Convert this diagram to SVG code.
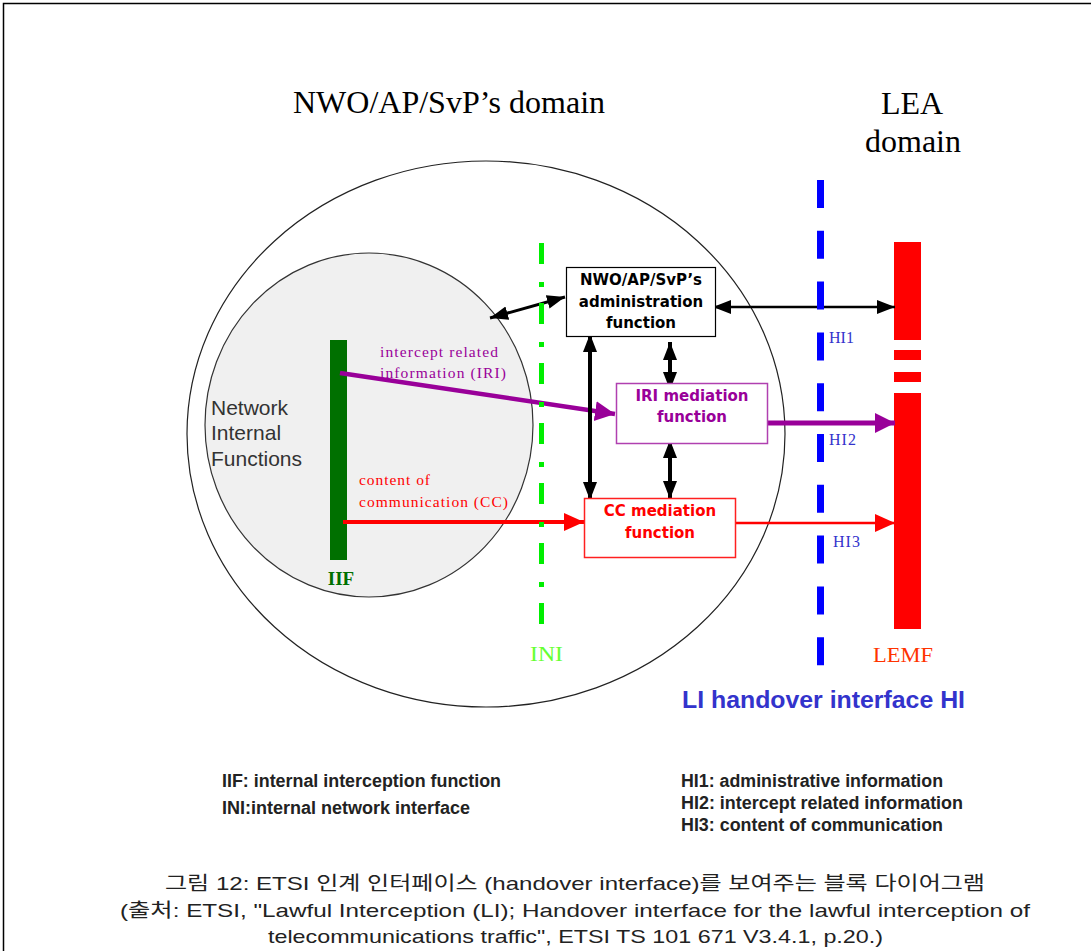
<svg xmlns="http://www.w3.org/2000/svg" width="1091" height="951" viewBox="0 0 1091 951">
<style>
.serif{font-family:"Liberation Serif","DejaVu Serif",serif}
.sans{font-family:"Liberation Sans",Arial,sans-serif}
.box{font-family:"DejaVu Sans","Liberation Sans",sans-serif;font-weight:bold;font-size:15px;text-anchor:middle}
.leg{font-family:"Liberation Sans",Arial,sans-serif;font-weight:bold;font-size:18px;fill:#222}
.cap{font-family:"Liberation Sans","Noto Sans CJK KR",sans-serif;font-size:19px;fill:#222}
</style>
<defs>
<marker id="hb" markerUnits="userSpaceOnUse" markerWidth="20" markerHeight="16" refX="18" refY="7" orient="auto-start-reverse"><path d="M0,0 L18,7 L0,14 z" fill="#000"/></marker>
<marker id="hp" markerUnits="userSpaceOnUse" markerWidth="22" markerHeight="22" refX="20" refY="10" orient="auto"><path d="M0,0 L20,10 L0,20 z" fill="#990099"/></marker>
<marker id="hr" markerUnits="userSpaceOnUse" markerWidth="22" markerHeight="20" refX="20" refY="9" orient="auto"><path d="M0,0 L20,9 L0,18 z" fill="#ff0000"/></marker>
</defs>
<rect width="1091" height="951" fill="#fff"/>
<path d="M3.5,951 V3.5 H1091" fill="none" stroke="#000" stroke-width="1.5"/>

<g id="titles">
<text class="serif" x="449" y="113" font-size="32" text-anchor="middle">NWO/AP/SvP’s domain</text>
<text class="serif" x="912" y="114" font-size="32" text-anchor="middle">LEA</text>
<text class="serif" x="913" y="152" font-size="32" text-anchor="middle">domain</text>
</g>

<g id="nwo-domain">
<ellipse cx="486" cy="434" rx="299" ry="273" fill="none" stroke="#222" stroke-width="1.2"/>
</g>
<g id="network-internal">
<ellipse cx="369" cy="425" rx="164" ry="172" fill="#f0f0f0" stroke="#333" stroke-width="1.2"/>
<text class="sans" font-size="21" fill="#333"><tspan x="211" y="415">Network</tspan><tspan x="211" y="440">Internal</tspan><tspan x="211" y="466">Functions</tspan></text>
</g>

<g id="iif">
<rect x="330" y="340" width="17" height="220" fill="#007000"/>
<text class="serif" x="341" y="585" font-size="19" font-weight="bold" fill="#007000" text-anchor="middle">IIF</text>
</g>

<g id="lemf">
<rect x="894" y="242" width="27" height="98" fill="#ff0000"/>
<rect x="894" y="350" width="27" height="10" fill="#ff0000"/>
<rect x="894" y="372" width="27" height="10" fill="#ff0000"/>
<rect x="894" y="393" width="27" height="236" fill="#ff0000"/>
<text class="serif" x="873" y="662" font-size="20" fill="#ff3300" textLength="60" lengthAdjust="spacingAndGlyphs">LEMF</text>
</g>

<g id="connectors">
<line x1="340" y1="373" x2="615" y2="414" stroke="#990099" stroke-width="4.5" marker-end="url(#hp)"/>
<line x1="343" y1="522" x2="584" y2="522" stroke="#ff0000" stroke-width="4" marker-end="url(#hr)"/>
<line x1="768" y1="423" x2="895" y2="423" stroke="#990099" stroke-width="5" marker-end="url(#hp)"/>
<line x1="736" y1="523" x2="895" y2="523" stroke="#ff0000" stroke-width="2.7" marker-end="url(#hr)"/>
<line x1="490" y1="318" x2="565" y2="297" stroke="#000" stroke-width="3" marker-start="url(#hb)" marker-end="url(#hb)"/>
<line x1="713" y1="307" x2="895" y2="307" stroke="#000" stroke-width="2.7" marker-start="url(#hb)" marker-end="url(#hb)"/>
<line x1="590" y1="334" x2="590" y2="500" stroke="#000" stroke-width="4" marker-start="url(#hb)" marker-end="url(#hb)"/>
<line x1="670" y1="342" x2="670" y2="390" stroke="#000" stroke-width="4" marker-start="url(#hb)" marker-end="url(#hb)"/>
<line x1="670" y1="440" x2="670" y2="499" stroke="#000" stroke-width="4" marker-start="url(#hb)" marker-end="url(#hb)"/>
</g>

<g id="ini-line">
<line x1="541.5" y1="243" x2="541.5" y2="624" stroke="#00ee00" stroke-width="5" stroke-dasharray="21 18 5 16"/>
<text class="serif" x="530" y="661" font-size="20" fill="#66ff33" textLength="33" lengthAdjust="spacingAndGlyphs">INI</text>
</g>

<g id="hi-line">
<line x1="820.5" y1="180" x2="820.5" y2="667" stroke="#0000ff" stroke-width="7" stroke-dasharray="28 22.8"/>
<text class="serif" x="829" y="343" font-size="16" fill="#3333cc" textLength="25" lengthAdjust="spacing">HI1</text>
<text class="serif" x="829" y="445" font-size="16" fill="#3333cc" textLength="27" lengthAdjust="spacing">HI2</text>
<text class="serif" x="833" y="547" font-size="16" fill="#3333cc" textLength="27" lengthAdjust="spacing">HI3</text>
</g>

<g id="admin">
<rect x="566.5" y="267.5" width="149" height="69" fill="#fff" stroke="#000" stroke-width="1.2"/>
<text class="box" fill="#000"><tspan x="641" y="285">NWO/AP/SvP’s</tspan><tspan x="641" y="307">administration</tspan><tspan x="641" y="328">function</tspan></text>
</g>

<g id="iri-med">
<rect x="616.5" y="383.5" width="151" height="60" fill="#fff" stroke="#b040b0" stroke-width="1.5"/>
<text class="box" fill="#990099"><tspan x="692" y="401">IRI mediation</tspan><tspan x="692" y="422">function</tspan></text>
</g>

<g id="cc-med">
<rect x="584.5" y="498.5" width="151" height="59" fill="#fff" stroke="#ff2020" stroke-width="1.5"/>
<text class="box" fill="#ff0000"><tspan x="660" y="516">CC mediation</tspan><tspan x="660" y="538">function</tspan></text>
</g>

<g id="labels">
<text class="serif" x="380" y="357" font-size="15.5" fill="#990099" textLength="118" lengthAdjust="spacing">intercept related</text>
<text class="serif" x="380" y="378" font-size="15.5" fill="#990099" textLength="126" lengthAdjust="spacing">information (IRI)</text>
<text class="serif" x="359" y="485" font-size="15.5" fill="#ff0000" textLength="71" lengthAdjust="spacing">content of</text>
<text class="serif" x="359" y="507" font-size="15.5" fill="#ff0000" textLength="149" lengthAdjust="spacing">communication (CC)</text>
<text class="sans" x="682" y="708" font-size="24" font-weight="bold" fill="#3333cc" textLength="283" lengthAdjust="spacingAndGlyphs">LI handover interface HI</text>
</g>

<g id="legend">
<text class="leg" x="222" y="787" textLength="279" lengthAdjust="spacingAndGlyphs">IIF: internal interception function</text>
<text class="leg" x="222" y="814" textLength="248" lengthAdjust="spacingAndGlyphs">INI:internal network interface</text>
<text class="leg" x="681" y="787" textLength="262" lengthAdjust="spacingAndGlyphs">HI1: administrative information</text>
<text class="leg" x="681" y="809" textLength="282" lengthAdjust="spacingAndGlyphs">HI2: intercept related information</text>
<text class="leg" x="681" y="831" textLength="262" lengthAdjust="spacingAndGlyphs">HI3: content of communication</text>
</g>

<g id="caption">
<text class="cap" x="165" y="890" textLength="820" lengthAdjust="spacingAndGlyphs">그림 12: ETSI 인계 인터페이스 (handover interface)를 보여주는 블록 다이어그램</text>
<text class="cap" x="120" y="917" textLength="910" lengthAdjust="spacingAndGlyphs">(출처: ETSI, "Lawful Interception (LI); Handover interface for the lawful interception of</text>
<text class="cap" x="268" y="943" textLength="615" lengthAdjust="spacingAndGlyphs">telecommunications traffic", ETSI TS 101 671 V3.4.1, p.20.)</text>
</g>
</svg>
